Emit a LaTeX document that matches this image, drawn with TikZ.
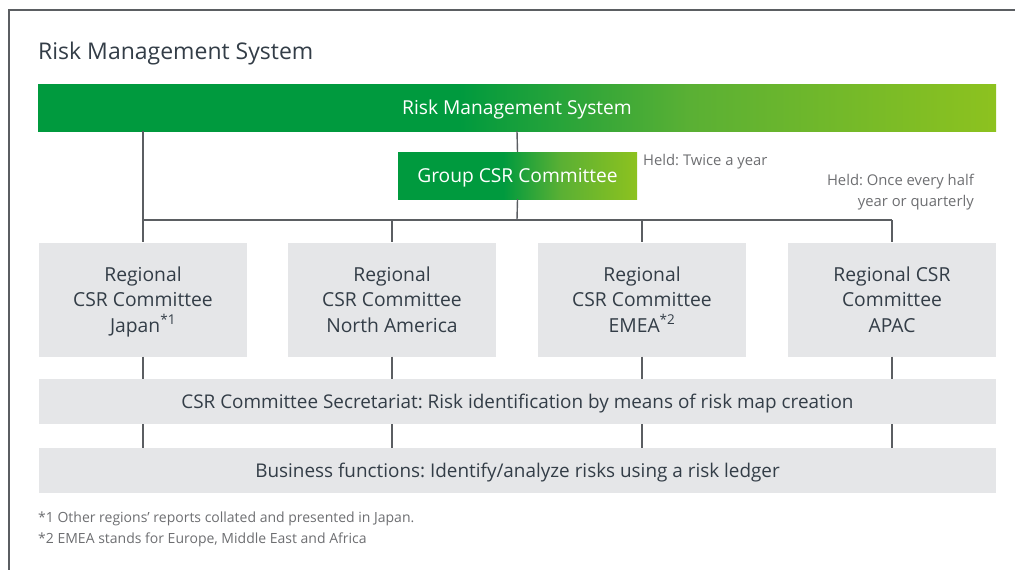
\documentclass[tikz,border=0pt]{standalone}
\usepackage{fontspec}
\setmainfont{Open Sans}
\frenchspacing

\definecolor{riskgreen}{HTML}{009A3E}
\definecolor{riskmid}{HTML}{5AB034}
\definecolor{risklime}{HTML}{8DC21F}
\definecolor{boxgray}{HTML}{E5E6E8}
\definecolor{textdark}{HTML}{333D47}
\definecolor{notegray}{HTML}{6D6E71}
\definecolor{linegray}{HTML}{5B5E62}

\pgfdeclarehorizontalshading{greenbar}{100bp}{color(0bp)=(riskgreen); color(25bp)=(riskgreen); color(47bp)=(riskgreen); color(59bp)=(riskmid); color(75bp)=(risklime); color(100bp)=(risklime)}

\tikzset{
  greenbox/.style={shade, shading=greenbar, text=white, inner sep=0pt, text depth=0pt, font=\fontsize{19.2}{23}\selectfont},
  regbox/.style={fill=boxgray, text=textdark, inner sep=0pt, text depth=0pt, align=center, minimum width=208pt, minimum height=114pt, font=\fontsize{19.3}{25.5}\selectfont},
  wide/.style={fill=boxgray, text=textdark, inner sep=0pt, text depth=0pt, minimum width=957pt, minimum height=45pt, font=\fontsize{18.9}{23}\selectfont},
  note/.style={text=notegray, inner sep=0pt, font=\fontsize{14.8}{21}\selectfont},
  link/.style={draw=linegray, line width=1.4pt}
}

\begin{document}
\begin{tikzpicture}[x=1pt,y=-1pt]
\useasboundingbox (0,0) rectangle (1015,570);

% Frame and title
\draw[linegray, line width=1.2pt] (9,570) -- (9,10) -- (1015,10);
\node[anchor=west, inner sep=0pt, text=textdark, font=\fontsize{23}{27}\selectfont] (title) at (38,53.5) {Risk Management System};

% Top bar and group committee
\node[greenbox, minimum width=958pt, minimum height=47pt] (top) at (517,107.5) {Risk Management System};
\node[greenbox, minimum width=239pt, minimum height=47pt] (grp) at (517.5,175.5) {Group CSR Committee};

\node[note, anchor=west] (twice) at (643,162) {Held: Twice a year};
\node[note, align=right, anchor=east] (half) at (974,192) {Held: Once every half\\year or quarterly};

% Regional committees
\node[regbox] (r1) at (143,299.5) {Regional\\CSR Committee\\Japan\smash{\textsuperscript{*1}}};
\node[regbox] (r2) at (392,299.5) {Regional\\CSR Committee\\North America};
\node[regbox] (r3) at (642,299.5) {Regional\\CSR Committee\\EMEA\smash{\textsuperscript{*2}}};
\node[regbox] (r4) at (892,299.5) {Regional CSR\\Committee\\APAC};

% Secretariat and business functions
\node[wide] (sec) at (517.5,401.5) {CSR Committee Secretariat: Risk identification by means of risk map creation};
\node[wide] (biz) at (517.5,470.5) {Business functions: Identify/analyze risks using a risk ledger};

\coordinate (split) at (517,220);

\draw[link] (top.south) -- (grp.north);
\draw[link] (grp.south) -- (split);
\draw[link] (split -| r1.north) -- (split -| r4.north);
\draw[link] (top.south -| r1.north) -- (r1.north);
\draw[link] (split -| r2.north) -- (r2.north);
\draw[link] (split -| r3.north) -- (r3.north);
\draw[link] (split -| r4.north) -- (r4.north);

\foreach \r in {r1,r2,r3,r4} {
  \draw[link] (\r.south) -- (\r.south |- sec.north);
  \draw[link] (\r.south |- sec.south) -- (\r.south |- biz.north);
}

% Footnotes
\node[note, anchor=west, font=\fontsize{14}{20}\selectfont] (fn1) at (38,518.5) {*1 Other regions’ reports collated and presented in Japan.};
\node[note, anchor=west, font=\fontsize{14}{20}\selectfont] (fn2) at (38,539.5) {*2 EMEA stands for Europe, Middle East and Africa};

\end{tikzpicture}
\end{document}
